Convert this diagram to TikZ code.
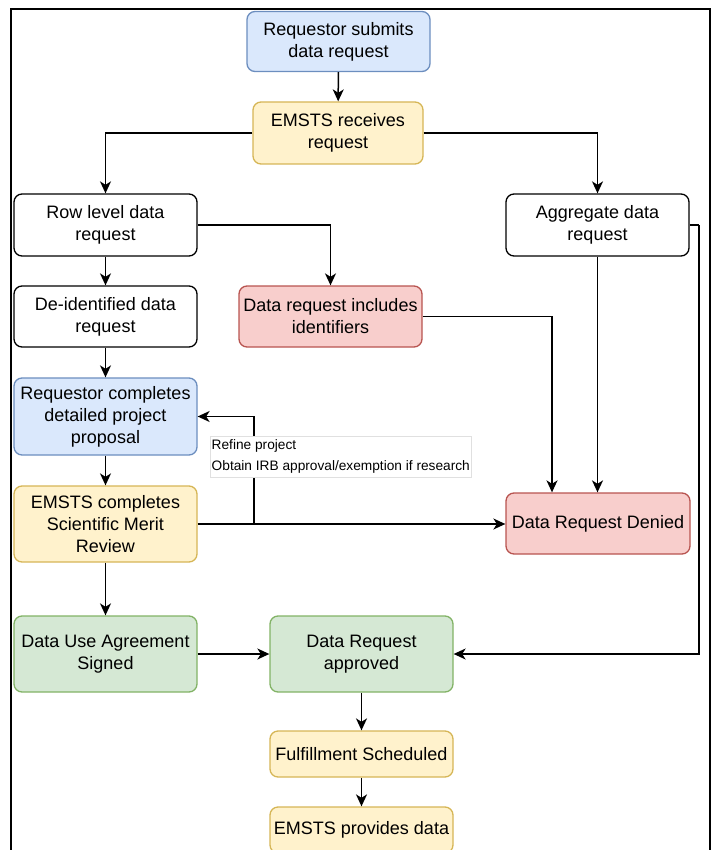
\documentclass[tikz,border=0pt]{standalone}
\usepackage{fontspec}
\setmainfont{Liberation Sans}
\usetikzlibrary{arrows.meta}
\definecolor{bluef}{HTML}{DAE8FC}\definecolor{blued}{HTML}{6C8EBF}
\definecolor{yelf}{HTML}{FFF2CC}\definecolor{yeld}{HTML}{D6B656}
\definecolor{redf}{HTML}{F8CECC}\definecolor{redd}{HTML}{B85450}
\definecolor{grnf}{HTML}{D5E8D4}\definecolor{grnd}{HTML}{82B366}
\tikzset{
  box/.style={rectangle, rounded corners=8pt, line width=1.3pt, minimum width=183pt,
    align=center, inner sep=2pt, font=\fontsize{18}{22}\selectfont},
  wbox/.style={box, draw=black, fill=white},
  bbox/.style={box, draw=blued, fill=bluef},
  ybox/.style={box, draw=yeld, fill=yelf},
  rbox/.style={box, draw=redd, fill=redf},
  gbox/.style={box, draw=grnd, fill=grnf},
  arr/.style={-{Stealth[length=12pt,width=11pt,inset=3.5pt]}, line width=1.5pt},
  ln/.style={line width=1.5pt},
}
\begin{document}
\begin{tikzpicture}[x=1pt,y=-1pt]
\useasboundingbox (0,0) rectangle (713,850);
\clip (0,0) rectangle (713,850);
\draw[line width=2pt] (11,9.5) rectangle (710,900);
% nodes
\node[bbox, minimum height=60pt] (n1) at (338.5,41.5) {Requestor submits\\data request};
\node[ybox, minimum width=170pt, minimum height=62pt] (n2) at (338,133) {EMSTS receives\\request};
\node[wbox, minimum height=62pt] (row) at (105.5,225) {Row level data\\request};
\node[wbox, minimum height=62pt] (agg) at (597.5,225) {Aggregate data\\request};
\node[wbox, minimum height=61pt] (deid) at (105.5,316.5) {De-identified data\\request};
\node[rbox, minimum height=61pt] (ident) at (330.5,316.5) {Data request includes\\identifiers};
\node[bbox, minimum height=77pt] (prop) at (105.5,416.5) {Requestor completes\\detailed project\\proposal};
\node[ybox, minimum height=76pt] (merit) at (105.5,524) {EMSTS completes\\Scientific Merit\\Review};
\node[rbox, minimum width=184pt, minimum height=61pt] (denied) at (598,523.5) {Data Request Denied};
\node[gbox, minimum height=76pt] (dua) at (105.5,654) {Data Use Agreement\\Signed};
\node[gbox, minimum height=76pt] (appr) at (361.5,654) {Data Request\\approved};
\node[ybox, minimum height=46pt] (ful) at (361.5,754) {Fulfillment Scheduled};
\node[ybox, minimum height=46pt] (prov) at (361.5,830) {EMSTS provides data};
% connectors
\draw[arr] (n1) -- (n2);
\draw[arr] (n2.west) -| (row.north);
\draw[arr] (n2.east) -| (agg.north);
\draw[arr] (row) -- (deid);
\draw[arr] (row.east) -| (ident.north);
\draw[arr] (deid) -- (prop);
\coordinate (dn) at (552,0 |- denied.north);
\draw[arr] (ident.east) -| (dn);
\draw[arr] (agg.south) -- (agg.south |- denied.north);
\coordinate (ae) at (699,0 |- agg.east);
\draw[ln] (agg.east) -- (ae);
\draw[arr] (ae) |- (appr.east);
\draw[arr] (prop) -- (merit);
\draw[arr] (merit.east) -- (merit.east -| denied.west);
\coordinate (br) at (254,0 |- merit.east);
\draw[arr] (br) |- (prop.east);
\node[anchor=north west, draw=black!12, fill=white, line width=0.6pt, align=left,
  inner xsep=1pt, inner ysep=2pt, minimum width=261pt, minimum height=41pt,
  font=\fontsize{13.7}{21}\selectfont] (lab) at (210,436) {Refine project\\Obtain IRB approval/exemption if research};
\draw[arr] (merit) -- (dua);
\draw[arr] (dua) -- (appr);
\draw[arr] (appr) -- (ful);
\draw[arr] (ful) -- (prov);
\end{tikzpicture}
\end{document}
